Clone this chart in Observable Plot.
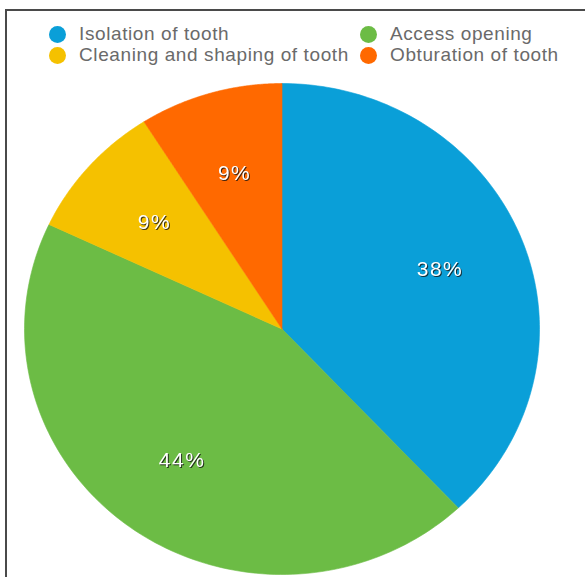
<!DOCTYPE html>
<html>
<head>
<meta charset="utf-8">
<script src="https://cdn.jsdelivr.net/npm/d3@7"></script>
<script src="https://cdn.jsdelivr.net/npm/@observablehq/plot@0.6"></script>
<style>
  html, body { margin: 0; padding: 0; background: #fff; }
  body { width: 585px; height: 577px; position: relative; overflow: hidden; font-family: "Liberation Sans", Arial, sans-serif; }
  #frame { position: absolute; left: 5px; top: 9px; width: 600px; height: 600px; border-top: 2px solid #4a4a4a; border-left: 2px solid #4a4a4a; box-sizing: border-box; pointer-events: none; z-index: 2; }
  #legend { position: relative; height: 75px; }
  .item { position: absolute; display: flex; align-items: center; height: 20px; font-size: 19px; letter-spacing: 0.6px; color: #6a6a6a; white-space: nowrap; }
  .dot { width: 17px; height: 17px; border-radius: 50%; margin-right: 13px; flex: none; }
  #chart { position: absolute; left: 0; top: 75px; }
  .pct text { letter-spacing: 1.5px; filter: drop-shadow(1px 1.5px 0.6px rgba(20,20,20,0.8)); }
</style>
</head>
<body>
<div id="frame"></div>
<div id="legend"></div>
<div id="chart"></div>
<script>
const categories = ["Isolation of tooth", "Access opening", "Cleaning and shaping of tooth", "Obturation of tooth"];
const values = [38, 44, 9, 9];
const labels = ["38%", "44%", "9%", "9%"];
const colors = ["#0a9fd8", "#6cbc45", "#f5c100", "#ff6900"];

const data = categories.map((c, i) => ({cat: c, value: values[i], label: labels[i]}));
const arcs = d3.pie().sort(null).value(d => d.value)(data);

const pts = [];
const N = 120;
arcs.forEach(a => {
  pts.push({cat: a.data.cat, x: 0, y: 0});
  for (let k = 0; k <= N; k++) {
    const t = a.startAngle + (a.endAngle - a.startAngle) * k / N;
    pts.push({cat: a.data.cat, x: Math.sin(t), y: Math.cos(t)});
  }
  pts.push({cat: a.data.cat, x: 0, y: 0});
});
const lab = arcs.map(a => {
  const m = (a.startAngle + a.endAngle) / 2, r = 0.66;
  return {label: a.data.label, x: r * Math.sin(m), y: r * Math.cos(m)};
});

// legend (HTML above the SVG)
const legend = document.getElementById("legend");
const legPos = [[49, 24], [360, 24], [49, 45], [360, 45]];
[0, 1, 2, 3].forEach((i, j) => {
  const el = document.createElement("div");
  el.className = "item";
  el.style.left = legPos[j][0] + "px";
  el.style.top = legPos[j][1] + "px";
  el.innerHTML = `<span class="dot" style="background:${colors[i]}"></span><span>${categories[i]}</span>`;
  legend.appendChild(el);
});

const chart = Plot.plot({
  width: 585,
  height: 502,
  marginLeft: 24,
  marginRight: 46,
  marginTop: 8,
  marginBottom: 3,
  x: {domain: [-1, 1], axis: null},
  y: {domain: [-1, 1], axis: null},
  color: {domain: categories, range: colors},
  style: {background: "transparent"},
  marks: [
    Plot.line(pts, {x: "x", y: "y", z: "cat", fill: "cat", stroke: "cat", strokeWidth: 0.6, curve: "linear"}),
    Plot.text(lab, {x: "x", y: "y", text: "label", fill: "#ffffff", fontSize: 21, fontFamily: "Liberation Sans, Arial, sans-serif", className: "pct"})
  ]
});
document.getElementById("chart").appendChild(chart);
</script>
</body>
</html>
